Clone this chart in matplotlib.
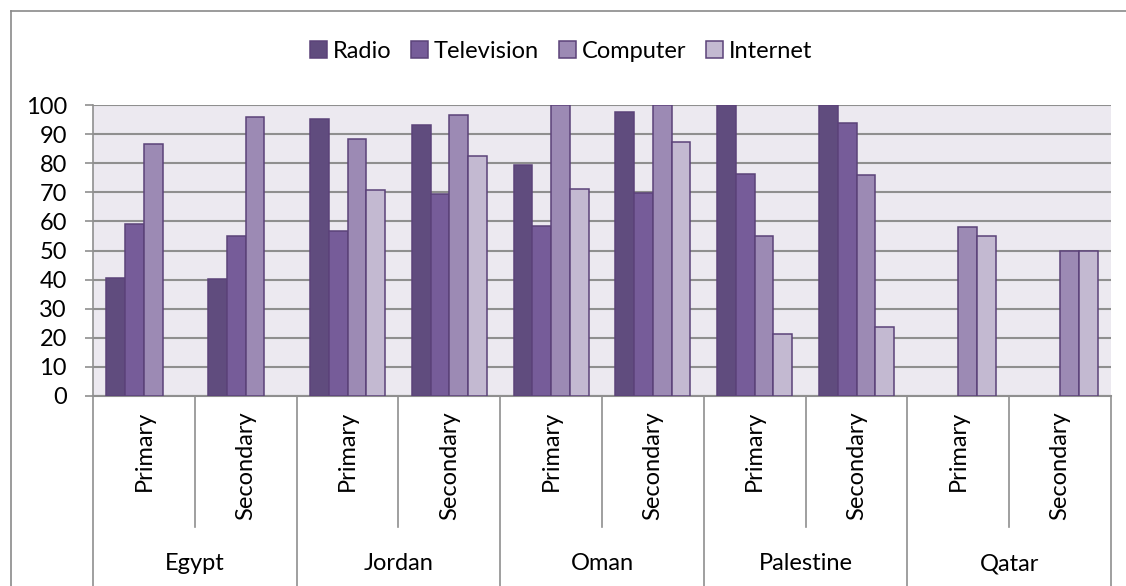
import numpy as np
import matplotlib
matplotlib.use("Agg")
import matplotlib.pyplot as plt
from matplotlib.lines import Line2D
from matplotlib.patches import Patch

countries = ["Egypt", "Jordan", "Oman", "Palestine", "Qatar"]
levels = ["Primary", "Secondary"]
series = ["Radio", "Television", "Computer", "Internet"]
nan = np.nan
radio      = [40.4, 40.3, 95.2, 93.2, 79.5, 97.5, 100, 100, nan, nan]
television = [59.0, 55.1, 56.6, 69.3, 58.3, 69.8, 76.4, 93.8, nan, nan]
computer   = [86.5, 95.9, 88.2, 96.7, 100, 100, 54.9, 75.9, 58.1, 50.0]
internet   = [nan, nan, 70.9, 82.4, 71.0, 87.2, 21.3, 23.8, 55.1, 50.0]
yticks = [0, 10, 20, 30, 40, 50, 60, 70, 80, 90, 100]

colors = ["#604C7E", "#765C99", "#9C8AB4", "#C3B9D1"]
edge = "#5B4279"
grid_c = "#8F8F8F"
font = ["Lato", "DejaVu Sans"]
plt.rcParams["font.family"] = font
FS = 17

W, H = 1126, 586
fig = plt.figure(figsize=(W / 100, H / 100), dpi=100)
L, R, T, B = 93, 1111, 105, 396
ax = fig.add_axes([L / W, 1 - B / H, (R - L) / W, (B - T) / H])
ax.set_facecolor("#ECE9F0")

n = len(radio)
x = np.arange(n) + 0.5
bw = 0.184
data = [radio, television, computer, internet]
for k, vals in enumerate(data):
    vals = np.array(vals, dtype=float)
    m = ~np.isnan(vals)
    ax.bar(x[m] + (k - 1.5) * bw, vals[m], width=bw, color=colors[k],
           edgecolor=edge, linewidth=1.1, zorder=3)

ax.set_xlim(0, n)
ax.set_ylim(0, 100)
ax.set_yticks(yticks)
ax.set_yticklabels([str(v) for v in yticks], fontsize=FS)
ax.yaxis.grid(True, color=grid_c, linewidth=1.5, zorder=1)
ax.set_axisbelow(True)
ax.tick_params(axis="y", length=5.8, width=1.2, color=grid_c, pad=13)
ax.set_xticks([])
for s in ["top", "right"]:
    ax.spines[s].set_visible(False)
ax.spines["left"].set_color(grid_c)
ax.spines["left"].set_linewidth(1.2)
ax.spines["bottom"].set_color(grid_c)
ax.spines["bottom"].set_linewidth(1.5)

tr = ax.get_xaxis_transform()
sub_depth = -(527 - B) / (B - T)
full_depth = -(H - B) / (B - T)
for i in range(n + 1):
    d = full_depth if i % 2 == 0 else sub_depth
    ax.plot([i, i], [0, d], color=grid_c, lw=1.2, transform=tr, clip_on=False)

lab_y = -(411 - B) / (B - T)
for i in range(n):
    ax.text(x[i], lab_y, levels[i % 2], rotation=90, ha="center", va="top",
            fontsize=FS, transform=tr)
cty_y = -(564 - B) / (B - T)
for j, c in enumerate(countries):
    ax.text(2 * j + 1, cty_y, c, ha="center", va="center", fontsize=FS, transform=tr)

# outer chart border (partially visible)
fig.add_artist(Line2D([11 / W, 11 / W], [0, 1 - 11 / H], color="#8A8A8A", lw=1.2,
                      transform=fig.transFigure))
fig.add_artist(Line2D([11 / W, 1], [1 - 11 / H, 1 - 11 / H], color="#8A8A8A", lw=1.2,
                      transform=fig.transFigure))

handles = [Patch(facecolor=colors[k], edgecolor=edge, linewidth=1.1) for k in range(4)]
fig.legend(handles, series, loc="center", bbox_to_anchor=(561 / W, 1 - 51 / H),
           ncol=4, frameon=False, fontsize=FS, handlelength=0.7, handleheight=0.7,
           handletextpad=0.25, columnspacing=0.85)

fig.savefig("out.png", dpi=100)
